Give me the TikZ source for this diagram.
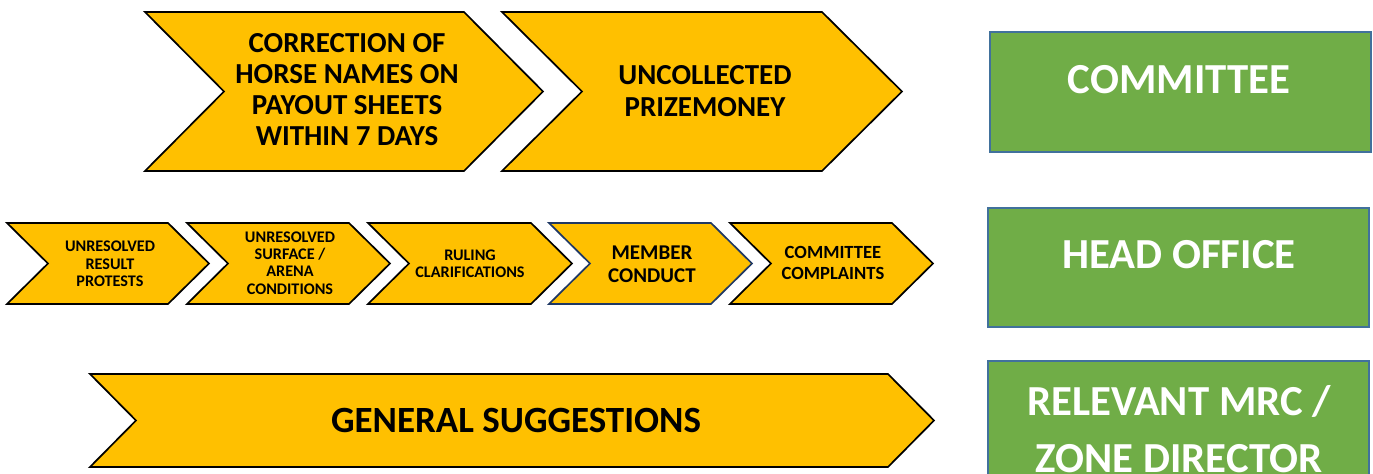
\documentclass[tikz,border=0pt]{standalone}
\usepackage{fontspec}
\setmainfont{Carlito}
\usetikzlibrary{positioning}
\definecolor{Amber}{HTML}{FFC000}
\definecolor{Leaf}{HTML}{70AD47}
\definecolor{Steel}{HTML}{41719C}
\definecolor{Navy}{HTML}{1F3864}

% chevron: [edge colour] left x, top y, bottom y, tip x, notch depth
\newcommand{\chevron}[6][black]{%
  \filldraw[fill=Amber,draw=#1,line width=0.85pt,line join=miter]
    (#2,#3) -- ({#5-#6},#3) -- (#5,{(#3+#4)/2}) -- ({#5-#6},#4)
    -- (#2,#4) -- ({#2+#6},{(#3+#4)/2}) -- cycle;}

\tikzset{
  lab/.style={align=center,text=black,inner sep=0pt,font=#1},
  unit/.style={fill=Leaf,draw=Steel,line width=1pt},
  unitlab/.style={align=center,text=white,inner sep=0pt,
    font=\fontsize{21.4}{28.5}\selectfont\bfseries},
}

\begin{document}
\begin{tikzpicture}[x=0.5pt,y=-0.5pt]
  \useasboundingbox (0,0) rectangle (1373,474);
  \clip (0,0) rectangle (1373,474);

  % top row
  \chevron{145}{12}{171}{543}{79}
  \chevron{502}{12}{171}{902}{80}
  \node[lab={\fontsize{14.5}{15.5}\selectfont\bfseries}] (horses) at (347,90)
    {CORRECTION OF\\HORSE NAMES ON\\PAYOUT SHEETS\\WITHIN 7 DAYS};
  \node[lab={\fontsize{14.5}{16}\selectfont\bfseries}] (prize) at (705,91)
    {UNCOLLECTED\\PRIZEMONEY};

  % middle row
  \foreach \lx/\tx in {7/209,187/390,368/572,730/933}
    \chevron{\lx}{223}{304}{\tx}{41};
  \chevron[Navy]{549}{223}{304}{752}{41}
  \node[lab={\fontsize{8.1}{8.8}\selectfont\bfseries}] (protests) at (110,264)
    {UNRESOLVED\\RESULT\\PROTESTS};
  \node[lab={\fontsize{8.1}{8.7}\selectfont\bfseries}] (surface) at (290,263)
    {UNRESOLVED\\SURFACE /\\ARENA\\CONDITIONS};
  \node[lab={\fontsize{8.1}{8.7}\selectfont\bfseries}] (ruling) at (470,264)
    {RULING\\CLARIFICATIONS};
  \node[lab={\fontsize{10.5}{11.5}\selectfont\bfseries}] (conduct) at (652,264)
    {MEMBER\\CONDUCT};
  \node[lab={\fontsize{9.3}{10.2}\selectfont\bfseries}] (complaints) at (833,263)
    {COMMITTEE\\COMPLAINTS};

  % bottom row
  \chevron{90}{374}{467}{934}{46}
  \node[lab={\fontsize{18.5}{20}\selectfont\bfseries}] (general) at (516,421)
    {GENERAL SUGGESTIONS};

  % who handles each row
  \filldraw[unit] (990,32) rectangle (1371,152);
  \filldraw[unit] (988,208) rectangle (1369,327);
  \filldraw[unit] (988,361) rectangle (1369,500);
  \node[unitlab] (committee) at (1179,80) {COMMITTEE};
  \node[unitlab] (office) at (1179,255) {HEAD OFFICE};
  \node[unitlab] (director) at (1179,429) {RELEVANT MRC /\\ZONE DIRECTOR};
\end{tikzpicture}
\end{document}
